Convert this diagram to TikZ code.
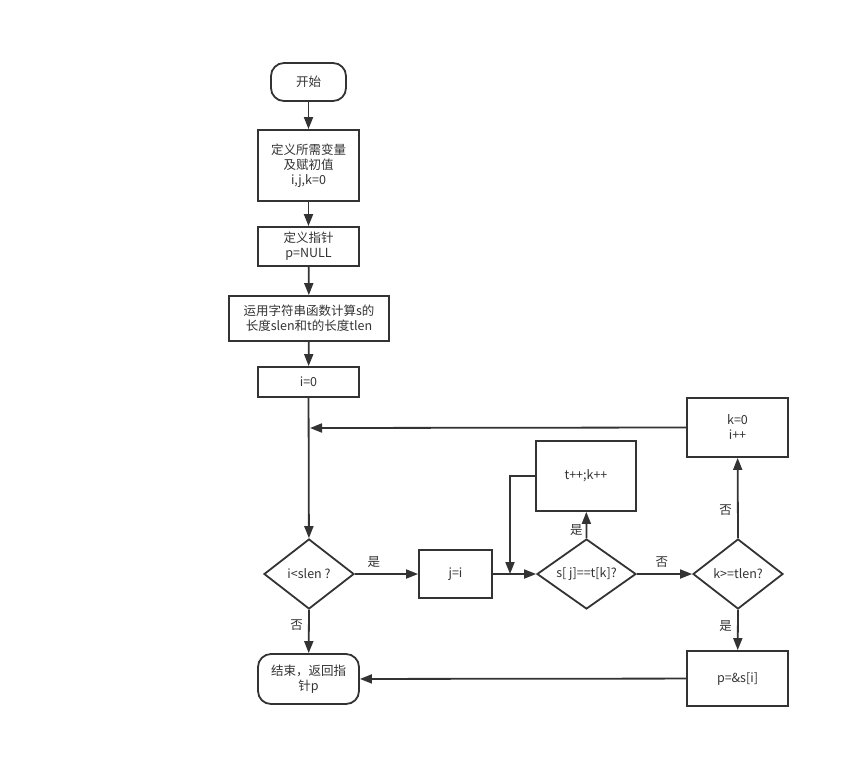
\documentclass[tikz,border=0pt]{standalone}
\usepackage{fontspec}
\setmainfont{Noto Sans CJK SC}
\usetikzlibrary{arrows.meta,shapes.geometric}
\definecolor{ln}{HTML}{333333}
\tikzset{
  base/.style={draw=ln, line width=1.8pt, font=\fontsize{12.5}{15}\selectfont, text=ln, align=center, inner sep=0pt},
  boxn/.style={base, rectangle},
  roundn/.style={base, rectangle, rounded corners=13pt},
  dia/.style={base, diamond, aspect=1.3},
  conn/.style={draw=ln, line width=1.8pt, -{Triangle[length=12pt,width=9pt]}},
  lbl/.style={font=\fontsize{12.5}{15}\selectfont, text=ln, inner sep=1pt}
}
\begin{document}
\begin{tikzpicture}[x=1pt,y=-1pt]
\useasboundingbox (0,0) rectangle (850,769);
\node[roundn, minimum width=75pt, minimum height=38pt] (start) at (308.5,82) {开始};
\node[boxn, minimum width=101pt, minimum height=71pt] (b1) at (308.5,165.5) {定义所需变量\\及赋初值\\i,j,k=0};
\node[boxn, minimum width=101pt, minimum height=39pt] (b2) at (308.5,246.5) {定义指针\\p=NULL};
\node[boxn, minimum width=160pt, minimum height=45pt] (b3) at (309,318.5) {运用字符串函数计算s的\\长度slen和t的长度tlen};
\node[boxn, minimum width=101pt, minimum height=30pt] (b4) at (308.5,382) {i=0};
\node[dia, minimum width=90pt, minimum height=70pt] (d1) at (309,574) {i<slen ?};
\node[boxn, minimum width=73pt, minimum height=48pt] (ji) at (455.5,574) {j=i};
\node[dia, minimum width=99pt, minimum height=70pt] (d2) at (586.5,574) {s[ j]==t[k]?};
\node[boxn, minimum width=100pt, minimum height=70pt] (tk) at (586,476) {t++;k++};
\node[dia, minimum width=90pt, minimum height=70pt] (d3) at (738,574) {k>=tlen?};
\node[boxn, minimum width=101pt, minimum height=59pt] (k0) at (737.5,427.5) {k=0\\i++};
\node[boxn, minimum width=101pt, minimum height=55pt] (pp) at (737.5,678.5) {p=\&s[i]};
\node[roundn, minimum width=101pt, minimum height=50pt] (end) at (308.5,679) {结束，返回指\\针p};
\coordinate (m1) at (310,428);
\coordinate (m3) at (510,574);
\draw[conn] (start) -- (b1);
\draw[conn] (b1) -- (b2);
\draw[conn] (b2) -- (b3);
\draw[conn] (b3) -- (b4);
\draw[conn] (b4) -- (d1);
\draw[conn] (k0.west) -- (m1);
\draw[conn] (d1) -- node[lbl, pos=0.3, above=5pt] {是} (ji);
\draw[conn] (ji) -- (d2);
\draw[conn] (tk.west) -| (m3);
\draw[conn] (d2) -- node[lbl, pos=0.45, above=5pt] {否} (d3);
\draw[conn] (d2.north) -- node[lbl, pos=0.3, left=2pt] {是} (tk);
\draw[conn] (d3.north) -- node[lbl, pos=0.35, left=4pt] {否} (k0);
\draw[conn] (d3.south) -- node[lbl, pos=0.4, left=4pt] {是} (pp);
\draw[conn] (d1.south) -- node[lbl, pos=0.35, left=4pt] {否} (end);
\draw[conn] (pp) -- (end);
\end{tikzpicture}
\end{document}
